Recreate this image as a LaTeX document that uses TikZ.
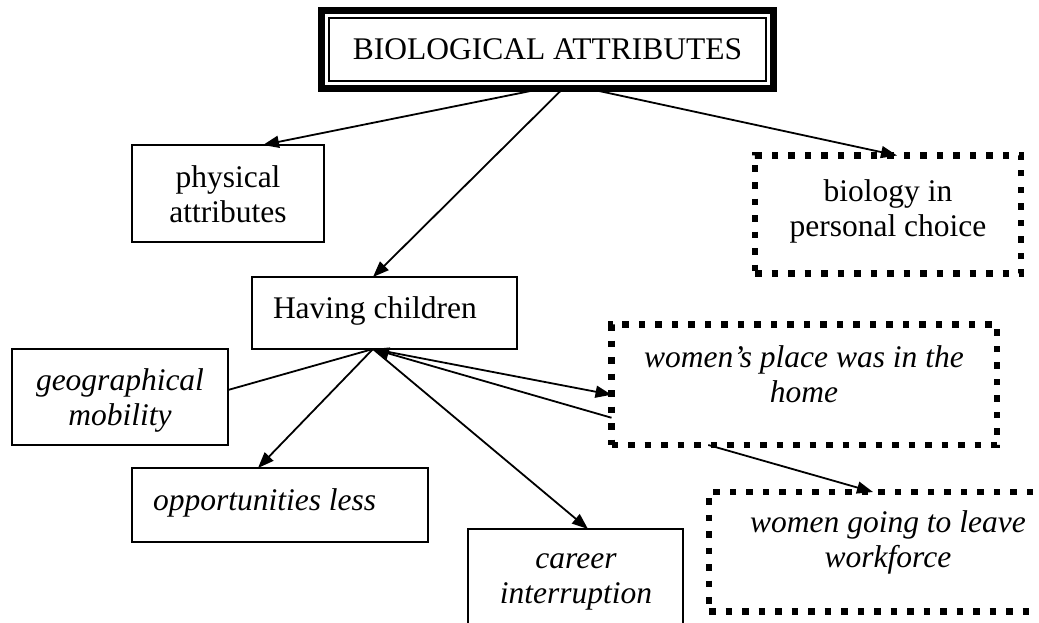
\documentclass[tikz,border=0pt]{standalone}
\usepackage{fontspec}
\setmainfont{Liberation Serif}
\usetikzlibrary{arrows.meta}
% stacked, centred lines whose baseline is the first line's
\newcommand{\stacklines}[1]{\begin{tabular}[t]{@{}c@{}}#1\end{tabular}}

\begin{document}
\begin{tikzpicture}[x=1pt,y=-1pt,
  every node/.style={font=\fontsize{31.5}{35}\selectfont, inner sep=0pt, outer sep=0pt},
  titlebox/.style={draw, line width=7pt},
  solidbox/.style={draw, line width=2pt},
  dotbox/.style={draw, line width=6.5pt, dash pattern=on 6.5pt off 10pt},
  label/.style={anchor=base},
  arr/.style={line width=1.8pt, -{Triangle[length=16pt,width=12pt]}},
  link/.style={line width=1.8pt}]

\useasboundingbox (0,0) rectangle (1039,623);
\clip (0,0) rectangle (1039,623);

% heading with a double frame
\node[titlebox, minimum width=452pt, minimum height=78pt] (title) at (547.5,49.5) {};
\draw[line width=1.5pt] ([shift={(7.5pt,-7.5pt)}]title.north west)
  rectangle ([shift={(-7.5pt,7.5pt)}]title.south east);
\node[label] (titletext) at (547.5,60) {BIOLOGICAL ATTRIBUTES};

% first level
\node[solidbox, minimum width=192pt, minimum height=97pt] (phys) at (228,193.5) {};
\node[label] (physt) at (228,187) {\stacklines{physical\\attributes}};

\node[dotbox, minimum width=266pt, minimum height=118pt] (bio) at (888,214.5) {};
\node[label] (biot) at (888,201) {\stacklines{biology in\\personal choice}};

\node[solidbox, minimum width=265pt, minimum height=72pt] (hc) at (384.5,313) {};
\node[anchor=base west] (hct) at (273,318) {Having children};

% consequences of having children
\node[solidbox, minimum width=216pt, minimum height=96pt] (geo) at (120,397) {};
\node[label] (geot) at (120,390) {\itshape\stacklines{geographical\\mobility}};

\node[solidbox, minimum width=296pt, minimum height=74pt] (opp) at (280,505) {};
\node[anchor=base west] (oppt) at (153,510) {\itshape opportunities less};

\node[solidbox, minimum width=215pt, minimum height=120pt] (car) at (575.5,589) {};
\node[label] (cart) at (576,568) {\itshape\stacklines{career\\interruption}};

\node[dotbox, minimum width=385.5pt, minimum height=120.5pt] (wp) at (804.25,384.75) {};
\node[label] (wpt) at (804,367) {\itshape\stacklines{women’s place was in the\\home}};

\node[dotbox, minimum width=358pt, minimum height=119.5pt] (wg) at (888,551.75) {};
\node[label] (wgt) at (888,532) {\itshape\stacklines{women going to leave\\workforce}};

% connectors
\coordinate (H) at ([xshift=-11.5pt]hc.south);
\draw[arr] ([xshift=-4.5pt]title.south) -- ([xshift=35pt]phys.north);
\draw[arr] ([xshift=15.5pt]title.south) -- ([xshift=-11.5pt]hc.north);
\draw[arr] ([xshift=40pt]title.south) -- ([xshift=9pt]bio.north);
\draw[link] ([yshift=7pt]geo.east) -- (H);
\draw[arr] (H) -- ([xshift=-22pt]opp.north);
\draw[arr] (H) -- ([xshift=12.5pt]car.north);
\draw[arr] (H) -- ([yshift=-10pt]wp.west);
\draw[arr] ([yshift=-33pt]wp.west) -- (H);
\draw[arr] ([xshift=-96pt]wp.south) -- ([xshift=-15pt]wg.north);
\end{tikzpicture}
\end{document}
